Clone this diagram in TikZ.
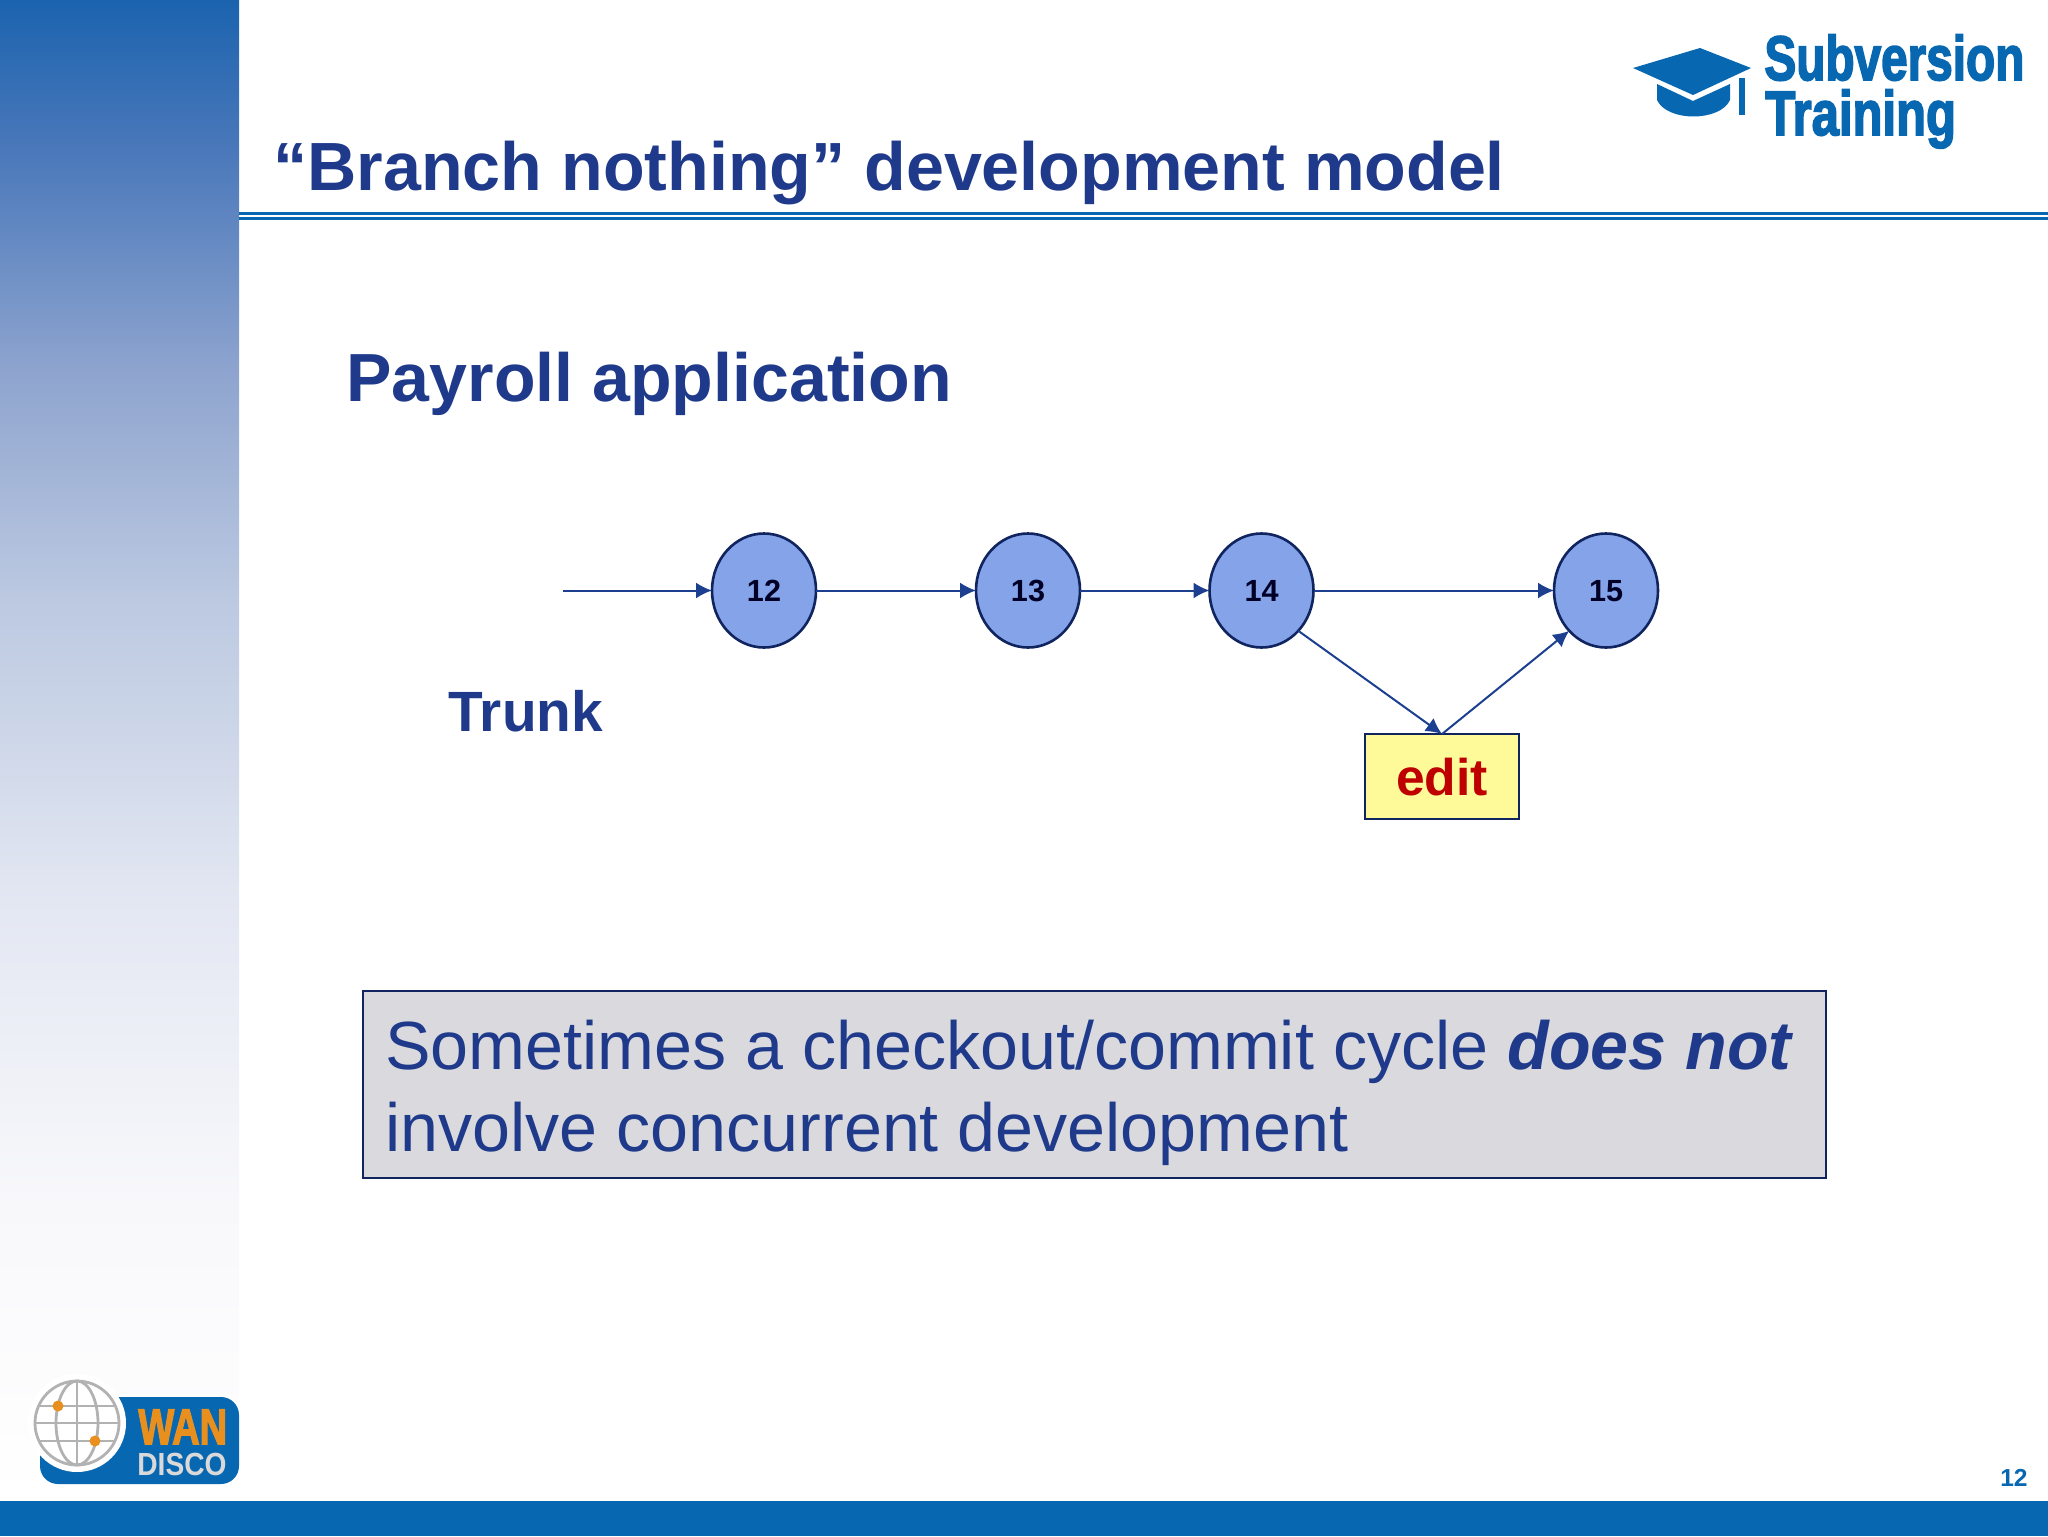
\documentclass[tikz,border=0pt]{standalone}
\usepackage{fontspec}
\setmainfont{Liberation Sans}
\newfontfamily\logofont[FakeBold=3]{Liberation Sans Bold}
\usetikzlibrary{arrows.meta,shapes.geometric}
\definecolor{titleblue}{HTML}{1F3A8A}
\definecolor{barblue}{HTML}{0767B1}
\definecolor{revfill}{HTML}{84A3E8}
\definecolor{revline}{HTML}{10245F}
\definecolor{linkblue}{HTML}{1C3F8F}
\definecolor{notefill}{HTML}{D9D9DE}
\definecolor{wanorange}{HTML}{E88F1E}
\definecolor{side0}{HTML}{1B63AE}
\definecolor{side1}{HTML}{4A78BA}
\definecolor{side2}{HTML}{8FA5CF}
\definecolor{side3}{HTML}{BCC9E1}
\definecolor{side4}{HTML}{E3E7F2}
\definecolor{side5}{HTML}{F8F8FB}
\definecolor{side6}{HTML}{FFFFFF}
\pgfdeclareverticalshading{sidebar}{100bp}{color(0bp)=(side6); color(25bp)=(side6); color(35bp)=(side5); color(45bp)=(side4);
  color(55bp)=(side3); color(62.5bp)=(side2); color(70bp)=(side1); color(75bp)=(side0); color(100bp)=(side0)}
\tikzset{
  revision/.style={ellipse,draw=revline,fill=revfill,line width=1.3pt,inner sep=0pt,outer sep=0pt,
    minimum width=52pt,minimum height=57pt,text height=11pt,text depth=0pt,text=black!85!blue,font=\bfseries\fontsize{15.3}{18}\selectfont},
  editbox/.style={rectangle,draw=revline,fill=yellow!40,line width=1.3pt,inner sep=0pt,outer sep=0pt,
    minimum width=77pt,minimum height=42.5pt,text height=19pt,text depth=0pt,text=red!75!black,font=\bfseries\fontsize{25.8}{30}\selectfont},
  notebox/.style={rectangle,draw=revline,fill=notefill,line width=1.3pt,inner sep=0pt,
    minimum width=731.5pt,minimum height=93.5pt,text width=709pt,align=left,text=titleblue,
    font=\fontsize{34.1}{41}\selectfont},
  heading/.style={anchor=base west,inner sep=0pt,text=titleblue,font=\bfseries\fontsize{#1}{#1}\selectfont},
  logotext/.style={anchor=base west,inner sep=0pt,text=barblue,font=\logofont\fontsize{#1}{#1}\selectfont},
  link/.style={-{Latex[length=8pt,width=8pt]},draw=linkblue,line width=1pt}
}
\begin{document}
\begin{tikzpicture}[x=0.5pt,y=-0.5pt]
      \useasboundingbox (0,0) rectangle (2048,1536);
      % slide frame
      \shade[shading=sidebar] (0,0) rectangle (239,1501);
      \fill[barblue] (0,1501) rectangle (2048,1536);
      \fill[barblue] (239,212) rectangle (2048,215);
      \fill[barblue] (239,217) rectangle (2048,220);
      % training logo
      \fill[barblue] (1633,68) -- (1700,48) -- (1751,68) -- (1693,95) -- cycle;
      \fill[barblue] (1657,84) -- (1693,101) -- (1730,84) -- (1730,100) .. controls (1720,122) and (1667,122) .. (1657,100) -- cycle;
      \fill[barblue] (1739,78) rectangle (1745,115);
      \node[logotext=31.4] (subversion) at (1764,80) {\scalebox{.76}[1]{Subversion}};
      \node[logotext=31.4] (training) at (1765,135) {\scalebox{.78}[1]{Training}};
      % company logo
      \fill[barblue,rounded corners=9pt] (40,1440) -- (40,1484) -- (239,1484) -- (239,1397) -- (100,1397) -- (100,1440) -- cycle;
      \fill[white] (77,1423) circle[radius=49];
      \begin{scope}[draw=gray!60,line width=1.4pt]
        \draw (77,1423) circle[radius=42];
        \draw (77,1423) ellipse[x radius=21,y radius=42];
        \draw (77,1381) -- (77,1465);
        \draw (35,1423) -- (119,1423);
        \draw (40,1406) -- (114,1406);
        \draw (40,1441) -- (114,1441);
      \end{scope}
      \fill[wanorange] (58,1406) circle[radius=5.5];
      \fill[wanorange] (95,1441) circle[radius=5.5];
      \node[anchor=base west,inner sep=0pt,text=wanorange,font=\logofont\fontsize{25}{25}\selectfont] (wan) at (138,1444) {\scalebox{.76}[1]{WAN}};
      \node[anchor=base west,inner sep=0pt,text=gray!30,font=\bfseries\fontsize{16}{16}\selectfont] (disco) at (137,1475) {\scalebox{.88}[1]{DISCO}};
      % texts
      \node[heading=34.1] (title) at (273,190) {“Branch nothing” development model};
      \node[heading=34.05] (payroll) at (346,401) {Payroll application};
      \node[heading=28.4] (trunk) at (448,731) {Trunk};
      \node[anchor=base east,inner sep=0pt,text=barblue,font=\bfseries\fontsize{12.3}{12.3}\selectfont] (page) at (2028,1486) {12};
      % revisions
      \coordinate (start) at (563,590.5);
      \draw
        (764,590.5) node[revision] (12){12}
        (1028,590.5) node[revision] (13){13}
        (1261.5,590.5) node[revision] (14){14}
        (1606,590.5) node[revision] (15){15}
        (1442,776.5) node[editbox] (edit){edit};
      \node[notebox] (note) at (1094.5,1084.5) {\spaceskip=.278em\relax\rule{0pt}{33pt}Sometimes a checkout/commit cycle \textbf{\textit{does not}}\\involve concurrent development};
      \begin{scope}[link]
        \draw (start) to (12);
        \draw (12) to (13);
        \draw (13) to (14);
        \draw (14) to (15);
        \draw (14.south east) to (edit.north);
        \draw (edit.north) to (15.south west);
      \end{scope}
    \end{tikzpicture}
\end{document}
